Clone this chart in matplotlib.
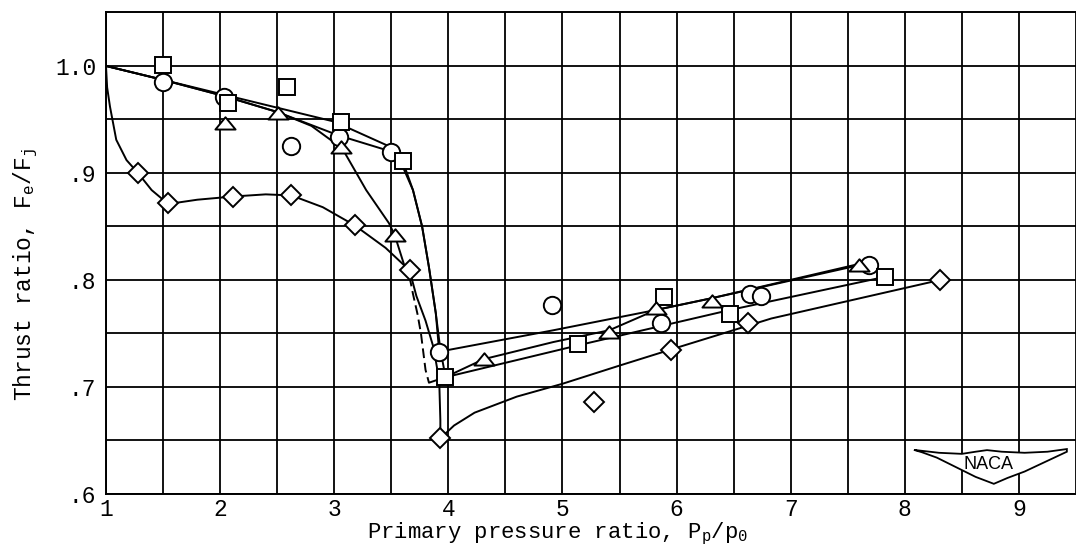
import matplotlib
matplotlib.use("Agg")
import matplotlib.pyplot as plt
from matplotlib.path import Path
from matplotlib.patches import Polygon

# ---------------- data ----------------
circle_x = [1.50, 2.03, 2.62, 3.04, 3.50, 3.92, 4.91, 5.86, 6.64, 6.74, 7.69]
circle_y = [0.985, 0.971, 0.925, 0.934, 0.920, 0.733, 0.777, 0.760, 0.787, 0.785, 0.814]
square_x = [1.50, 2.07, 2.59, 3.06, 3.60, 3.97, 5.14, 5.89, 6.47, 7.83]
square_y = [1.001, 0.965, 0.980, 0.948, 0.911, 0.709, 0.740, 0.784, 0.768, 0.803]
triangle_x = [2.04, 2.51, 3.06, 3.53, 4.31, 5.41, 5.82, 6.31, 7.60]
triangle_y = [0.947, 0.956, 0.924, 0.842, 0.726, 0.751, 0.774, 0.780, 0.814]
diamond_x = [1.28, 1.545, 2.115, 2.625, 3.18, 3.66, 3.93, 5.28, 5.95, 6.63, 8.31]
diamond_y = [0.900, 0.872, 0.878, 0.879, 0.851, 0.809, 0.652, 0.686, 0.735, 0.760, 0.800]

# faired curves
circle_up_x = [1.0, 1.5, 2.03, 2.5, 3.04, 3.5, 3.6, 3.69, 3.77, 3.83, 3.89, 3.92]
circle_up_y = [1.0, 0.987, 0.972, 0.957, 0.935, 0.920, 0.906, 0.884, 0.850, 0.812, 0.769, 0.733]
circle_low_x = [3.92, 4.92, 5.82, 6.31, 7.65]
circle_low_y = [0.733, 0.753, 0.772, 0.783, 0.815]

square_up_x = [1.0, 2.0, 3.0, 3.5, 3.6, 3.69, 3.77, 3.83, 3.89, 3.93, 3.96, 3.97]
square_up_y = [1.0, 0.974, 0.948, 0.924, 0.911, 0.884, 0.850, 0.812, 0.769, 0.735, 0.718, 0.709]
square_low_x = [3.97, 5.14, 6.47, 7.83]
square_low_y = [0.709, 0.739, 0.772, 0.803]

triangle_up_x = [1.0, 1.5, 2.03, 2.5, 2.8, 3.07, 3.28, 3.48, 3.53, 3.61, 3.66]
triangle_up_y = [1.0, 0.987, 0.972, 0.957, 0.944, 0.923, 0.884, 0.853, 0.842, 0.815, 0.803]
triangle_dash_x = [3.66, 3.69, 3.73, 3.76, 3.80, 3.83]
triangle_dash_y = [0.803, 0.787, 0.768, 0.750, 0.716, 0.704]
triangle_low_x = [3.83, 3.97, 4.31, 4.92, 5.41, 5.82, 6.31, 7.60]
triangle_low_y = [0.704, 0.709, 0.726, 0.742, 0.753, 0.772, 0.783, 0.815]

diamond_up_x = [1.0, 1.01, 1.035, 1.09, 1.18, 1.28, 1.4, 1.545, 1.8, 2.115, 2.4, 2.625,
                2.9, 3.18, 3.45, 3.66, 3.72, 3.80, 3.87, 3.92, 3.93, 3.93]
diamond_up_y = [1.0, 0.980, 0.962, 0.931, 0.912, 0.900, 0.884, 0.871, 0.875, 0.878, 0.880, 0.879,
                0.868, 0.851, 0.830, 0.809, 0.785, 0.762, 0.737, 0.706, 0.669, 0.652]
diamond_low_x = [3.93, 4.05, 4.23, 4.6, 5.0, 5.5, 5.95, 6.83, 8.31]
diamond_low_y = [0.652, 0.664, 0.676, 0.691, 0.703, 0.720, 0.735, 0.764, 0.800]

x_ticks = [1, 2, 3, 4, 5, 6, 7, 8, 9]
y_ticks = [0.6, 0.7, 0.8, 0.9, 1.0]
y_ticklabels = [".6", ".7", ".8", ".9", "1.0"]

# ---------------- styling ----------------
MONO = "Liberation Mono"
plt.rcParams["font.family"] = [MONO, "DejaVu Sans Mono"]
plt.rcParams["mathtext.fontset"] = "custom"
plt.rcParams["mathtext.rm"] = MONO
plt.rcParams["mathtext.it"] = MONO
plt.rcParams["mathtext.bf"] = MONO

fig = plt.figure(figsize=(10.76, 5.49), dpi=100)
ax = fig.add_axes([0.0985, 0.1002, 0.9015, 0.8785])

ax.set_xlim(1.0, 9.42)
ax.set_ylim(0.6, 1.0507)

# grid every 0.5 in x and 0.05 in y
ax.set_xticks([1 + 0.5 * i for i in range(18)], minor=True)
ax.set_yticks([0.6 + 0.05 * i for i in range(9)], minor=True)
ax.set_xticks(x_ticks)
ax.set_xticklabels([str(v) for v in x_ticks])
ax.set_yticks(y_ticks)
ax.set_yticklabels(y_ticklabels)
ax.grid(True, which="both", color="black", lw=1.3)
ax.tick_params(which="both", length=0, labelsize=16.5, colors="black")
ax.tick_params(axis="x", pad=3)
ax.tick_params(axis="y", pad=7)
for s in ["left", "bottom", "top"]:
    ax.spines[s].set_color("black")
    ax.spines[s].set_linewidth(1.4)
ax.spines["right"].set_visible(False)
ax.set_axisbelow(True)

LW = 1.4
kw = dict(color="black", lw=LW, zorder=3, solid_capstyle="round")
ax.plot(circle_up_x, circle_up_y, **kw)
ax.plot(circle_low_x, circle_low_y, **kw)
ax.plot(square_up_x, square_up_y, **kw)
ax.plot(square_low_x, square_low_y, **kw)
ax.plot(triangle_up_x, triangle_up_y, **kw)
ax.plot(triangle_dash_x, triangle_dash_y, color="black", lw=LW, ls=(0, (5, 2.5)), zorder=3)
ax.plot(triangle_low_x, triangle_low_y, **kw)
ax.plot(diamond_up_x, diamond_up_y, **kw)
ax.plot(diamond_low_x, diamond_low_y, **kw)

tri_marker = Path([(-1, -0.6), (1, -0.6), (0, 0.62), (-1, -0.6)],
                  [Path.MOVETO, Path.LINETO, Path.LINETO, Path.CLOSEPOLY])
mk = dict(ls="none", mfc="white", mec="black", mew=1.4, zorder=5)
ax.plot(circle_x, circle_y, marker="o", ms=12.5, **mk)
ax.plot(square_x, square_y, marker="s", ms=11.3, **mk)
ax.plot(triangle_x, triangle_y, marker=tri_marker, ms=14.5, **mk)
ax.plot(diamond_x, diamond_y, marker="D", ms=10.5, **mk)

ax.set_xlabel(r"Primary pressure ratio, P$_\mathrm{p}$/p$_\mathrm{0}$", fontsize=16)
ax.xaxis.set_label_coords(0.466, -0.056)
ax.set_ylabel(r"Thrust ratio, F$_\mathrm{e}$/F$_\mathrm{j}$", fontsize=16.5)
ax.yaxis.set_label_coords(-0.068, 0.454)

# NACA emblem (decoration, bottom right)
wing = [(8.08, 0.6412), (8.3, 0.6385), (8.5, 0.6375), (8.62, 0.6395), (8.72, 0.6410),
        (8.85, 0.6395), (9.05, 0.6385), (9.25, 0.6395), (9.42, 0.6420),
        (9.42, 0.6395), (9.25, 0.6310), (9.05, 0.6210), (8.90, 0.6150), (8.78, 0.6095),
        (8.62, 0.6160), (8.45, 0.6250), (8.28, 0.6340), (8.15, 0.6390)]
ax.add_patch(Polygon(wing, closed=True, facecolor="white", edgecolor="black", lw=1.3, zorder=6))
ax.text(8.73, 0.6275, "NACA", ha="center", va="center", fontsize=13,
        family=["Liberation Sans", "DejaVu Sans"], color="black", zorder=7)

fig.savefig("out.png", dpi=100)
